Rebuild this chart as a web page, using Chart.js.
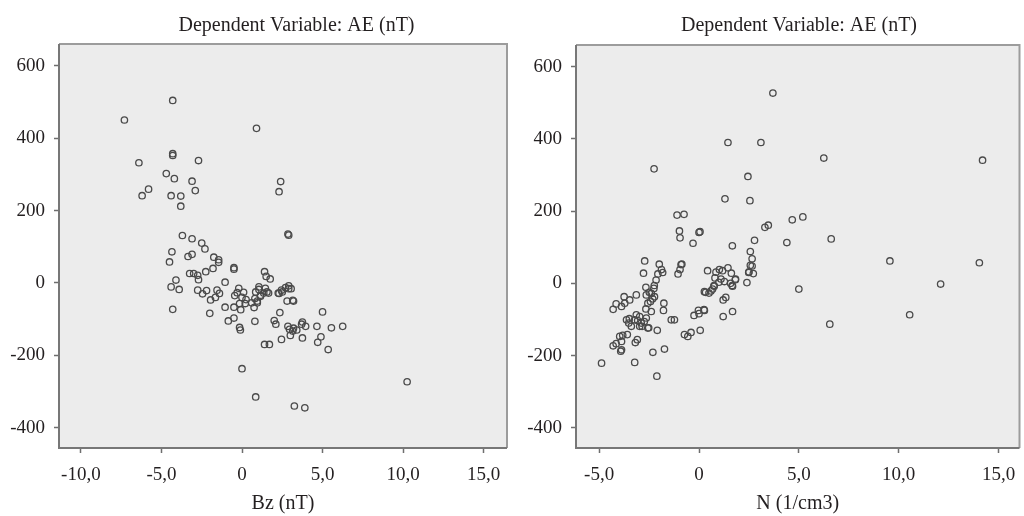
<!DOCTYPE html>
<html>
<head>
<meta charset="utf-8">
<script src="https://cdn.jsdelivr.net/npm/chart.js@4"></script>
<style>
  html, body { margin: 0; padding: 0; background: #ffffff; }
  #wrap { position: relative; width: 1024px; height: 516px; overflow: hidden; }
  .panel { position: absolute; top: 0; width: 512px; height: 516px; }
</style>
</head>
<body>
<div id="wrap">
  <div class="panel" style="left:0"><canvas id="bzChart" width="512" height="516"></canvas></div>
  <div class="panel" style="left:512px"><canvas id="nChart" width="512" height="516"></canvas></div>
</div>
<script>
// Residual scatter data: AE (nT) against Bz (nT) and against N (1/cm3)
const bzValues = [
  -4.3,-7.3,0.9,-6.4,-4.3,-4.3,-2.7,-4.7,-4.2,-3.1,-2.9,-5.8,-6.2,-4.4,-3.8,-3.8,2.4,2.3,2.9,2.85,
  -3.7,-3.1,-2.5,-2.3,-4.35,-3.35,-3.1,-1.75,-1.45,-4.5,-1.45,-0.5,-0.5,1.4,1.5,1.75,-4.1,-3.25,-3.0,-2.75,
  -2.7,-2.25,-1.8,-1.05,-4.4,-3.9,-2.75,-2.45,-2.2,-1.55,-1.4,-1.95,-1.65,-4.3,-2.0,-1.05,-0.5,-0.08,-0.85,-0.5,
  -0.15,-0.1,-0.2,-0.3,-0.45,0.1,0.25,0.0,0.6,0.95,1.05,1.15,1.35,1.65,1.45,0.8,0.8,0.85,1.15,1.55,
  0.95,1.05,2.25,2.45,2.7,2.9,3.05,2.8,3.2,2.35,2.0,2.1,2.85,3.15,3.0,3.4,3.7,3.95,3.75,2.45,
  1.4,1.7,4.65,5.0,4.9,4.7,5.55,5.35,6.25,0.0,0.85,3.25,3.9,10.25,2.5,2.3,3.15,2.9,0.75,0.2,
  -0.15,3.75,3.2,2.95
];
const aeVsBz = [
  504,450,427,332,357,352,338,302,288,281,255,259,241,241,240,212,280,252,132,135,
  131,122,110,94,86,73,79,71,64,58,57,42,38,31,18,11,8,26,26,21,
  9,31,40,2,-11,-18,-20,-30,-21,-20,-29,-47,-40,-73,-84,-67,-67,-74,-105,-97,
  -123,-130,-15,-27,-35,-26,-46,-40,-55,-55,-18,-37,-28,-28,-15,-43,-106,-25,-34,-25,
  -50,-11,-28,-20,-13,-8,-16,-50,-50,-82,-104,-114,-120,-133,-145,-130,-114,-120,-152,-156,
  -170,-170,-120,-80,-149,-164,-124,-184,-120,-237,-315,-340,-345,-273,-25,-29,-48,-16,-68,-57,
  -57,-108,-125,-128
];
const nValues = [
  3.7,1.45,3.1,6.25,14.2,-2.25,2.45,1.3,2.55,-1.1,-0.75,-0.98,-0.95,0.05,-0.3,1.67,2.78,3.3,3.47,4.67,
  5.2,4.4,6.62,2.57,2.66,9.56,14.04,12.1,10.55,6.55,5.0,-2.72,-2.78,-1.99,-1.88,-2.06,-1.82,-2.15,-2.24,-0.9,
  -0.95,-1.05,0.43,0.85,1.02,1.18,1.45,1.62,0.8,1.1,1.27,1.82,1.58,1.68,2.4,2.5,2.66,2.72,2.57,0.27,
  0.5,0.6,0.68,0.76,1.21,1.34,1.21,1.68,-0.03,0.27,0.06,-0.73,-0.56,-0.4,-1.39,-1.23,-1.76,-1.78,-1.73,-2.09,
  -2.11,-2.31,-2.39,-2.43,-2.39,-2.26,-2.23,-2.64,-2.56,-2.64,-2.56,-2.66,-2.49,-2.32,-2.66,-3.14,-2.97,-3.22,-2.89,-2.85,
  -2.97,-3.07,-2.74,-3.49,-3.63,-3.52,-3.39,-3.59,-3.14,-3.47,-3.75,-3.72,-3.88,-4.3,-4.15,-3.09,-3.19,-3.97,-3.88,-3.88,
  -3.92,-4.3,-3.22,-4.88,-2.52,-3.82,-4.15,0.0,0.25,0.0,-0.25,0.33,0.99,0.75,1.66,1.83,2.49,-0.86
];
const aeVsN = [
  527,390,390,347,341,317,296,234,229,189,191,145,126,143,111,104,119,155,161,176,
  184,113,123,88,68,62,57,-2,-87,-113,-16,62,28,53,38,26,30,9,-6,52,
  38,26,35,31,38,35,43,28,15,12,5,10,0,-8,2,32,48,27,50,-23,
  -27,-21,-16,-8,-46,-39,-92,-78,-75,-75,-130,-142,-147,-136,-101,-101,-55,-75,-182,-130,
  -257,-191,-78,-50,-28,-14,-37,-32,-55,-96,-124,-11,-25,-43,-71,-87,-92,-101,-110,-119,
  -119,-103,-106,-98,-101,-110,-119,-142,-32,-46,-37,-55,-64,-72,-57,-156,-164,-147,-161,-184,
  -188,-173,-219,-221,-123,-144,-167,141,-73,-84,-89,-25,3,-6,-6,12,30,53
];

// Tick labels
const bzTicks = [-10, -5, 0, 5, 10, 15];
const nTicks = [-5, 0, 5, 10, 15];
const aeTicks = [-400, -200, 0, 200, 400, 600];

const panelTitle = 'Dependent Variable: AE (nT)';
const SERIF = '"Liberation Serif", "Times New Roman", serif';
const TEXT = '#231f20';

// Decimal comma, plain "0" at the origin
const formatX = v => (v === 0 ? '0' : v.toFixed(1).replace('.', ','));

// Grey plotting field with its frame
const framePlugin = {
  id: 'frame',
  beforeDatasetsDraw(chart) {
    const { ctx, chartArea: a } = chart;
    ctx.save();
    ctx.fillStyle = '#ececec';
    ctx.fillRect(a.left, a.top, a.right - a.left, a.bottom - a.top);
    ctx.lineWidth = 2;
    ctx.strokeStyle = '#9c9c9c';
    ctx.beginPath();
    ctx.moveTo(a.left, a.top); ctx.lineTo(a.right, a.top); ctx.lineTo(a.right, a.bottom);
    ctx.stroke();
    ctx.strokeStyle = '#777777';
    ctx.beginPath();
    ctx.moveTo(a.left, a.top); ctx.lineTo(a.left, a.bottom); ctx.lineTo(a.right, a.bottom);
    ctx.stroke();
    ctx.restore();
  }
};

// Heading above each panel
const headingPlugin = {
  id: 'heading',
  afterDraw(chart, args, opts) {
    const { ctx } = chart;
    ctx.save();
    ctx.font = '20px ' + SERIF;
    ctx.fillStyle = TEXT;
    ctx.textAlign = 'center';
    ctx.textBaseline = 'alphabetic';
    ctx.fillText(opts.text, opts.x, 30.5);
    ctx.restore();
  }
};

function makePanel(id, xs, ys, cfg) {
  const points = xs.map((x, i) => ({ x: x, y: ys[i] }));
  return new Chart(document.getElementById(id), {
    type: 'scatter',
    data: {
      datasets: [{
        data: points,
        pointStyle: 'circle',
        pointRadius: 3.2,
        pointHoverRadius: 3.2,
        pointBorderWidth: 1.3,
        pointBorderColor: '#4a4a4a',
        pointBackgroundColor: 'rgba(0,0,0,0)'
      }]
    },
    options: {
      responsive: false,
      animation: false,
      events: [],
      layout: { padding: { top: cfg.top, right: cfg.right, bottom: 0, left: 0 } },
      plugins: {
        legend: { display: false },
        tooltip: { enabled: false },
        heading: { text: panelTitle, x: cfg.headingX }
      },
      scales: {
        x: {
          type: 'linear',
          min: cfg.xMin,
          max: cfg.xMax,
          afterBuildTicks: s => { s.ticks = cfg.xTicks.map(v => ({ value: v })); },
          afterFit: s => { s.height = 68; s.paddingLeft = 0; s.paddingRight = 0; },
          ticks: {
            callback: formatX,
            font: { family: SERIF, size: 19 },
            color: TEXT,
            padding: 11,
            maxRotation: 0,
            autoSkip: false
          },
          grid: { drawOnChartArea: false, drawTicks: true, tickLength: 5, tickColor: '#6e6e6e', tickWidth: 1.5 },
          border: { display: false },
          title: {
            display: true,
            text: cfg.xTitle,
            font: { family: SERIF, size: 20 },
            color: TEXT,
            padding: { top: 0, bottom: 0 }
          }
        },
        y: {
          type: 'linear',
          min: -456,
          max: 660,
          afterBuildTicks: s => { s.ticks = aeTicks.map(v => ({ value: v })); },
          afterFit: s => { s.width = cfg.yWidth; s.paddingTop = 0; s.paddingBottom = 0; },
          ticks: {
            callback: v => String(v),
            font: { family: SERIF, size: 19 },
            color: TEXT,
            padding: 9,
            autoSkip: false
          },
          grid: { drawOnChartArea: false, drawTicks: true, tickLength: 5, tickColor: '#6e6e6e', tickWidth: 1.5 },
          border: { display: false }
        }
      }
    },
    plugins: [framePlugin, headingPlugin]
  });
}

makePanel('bzChart', bzValues, aeVsBz, {
  xMin: -11.36, xMax: 16.45, xTicks: bzTicks, xTitle: 'Bz (nT)',
  yWidth: 59, right: 5, top: 44, headingX: 296.5
});
makePanel('nChart', nValues, aeVsN, {
  xMin: -6.16, xMax: 16.05, xTicks: nTicks, xTitle: 'N (1/cm3)',
  yWidth: 64, right: 2, top: 45, headingX: 287
});
</script>
</body>
</html>
